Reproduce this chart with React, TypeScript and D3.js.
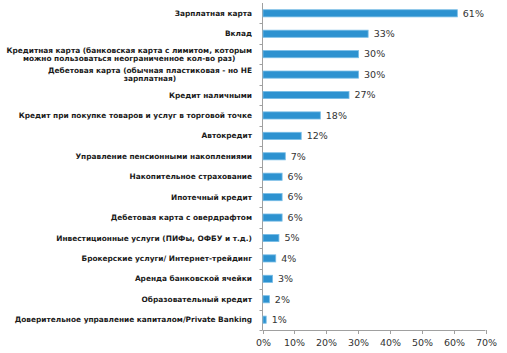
import React, { useEffect, useRef } from 'react';
import * as d3 from 'd3';

// categories (top to bottom), "\n" marks a line break in the label
const categories = [
  'Зарплатная карта',
  'Вклад',
  'Кредитная карта (банковская карта с  лимитом, которым\nможно пользоваться неограниченное кол-во раз)',
  'Дебетовая карта (обычная пластиковая - но НЕ\nзарплатная)',
  'Кредит наличными',
  'Кредит при покупке товаров и услуг в торговой точке',
  'Автокредит',
  'Управление пенсионными накоплениями',
  'Накопительное страхование',
  'Ипотечный кредит',
  'Дебетовая карта с овердрафтом',
  'Инвестиционные услуги (ПИФы, ОФБУ и т.д.)',
  'Брокерские услуги/ Интернет-трейдинг',
  'Аренда банковской ячейки',
  'Образовательный кредит',
  'Доверительное управление капиталом/Private Banking',
];
const values = [61, 33, 30, 30, 27, 18, 12, 7, 6, 6, 6, 5, 4, 3, 2, 1];
const xTicks = [0, 10, 20, 30, 40, 50, 60, 70];

const W = 507;
const H = 353;
const plot = { left: 262.5, right: 485.5, top: 3, bottom: 330 };

export default function App() {
  const ref = useRef<SVGSVGElement>(null);

  useEffect(() => {
    const svg = d3.select(ref.current);
    svg.selectAll('*').remove();

    const x = d3.scaleLinear().domain([0, 70]).range([plot.left, plot.right]);
    const y = d3
      .scaleBand<string>()
      .domain(categories)
      .range([plot.top, plot.bottom])
      .paddingInner(0.65)
      .paddingOuter(0.33);

    const bandTop = (i: number) => plot.top + i * ((plot.bottom - plot.top) / categories.length);

    // y axis line + small ticks between categories
    svg.append('line')
      .attr('x1', plot.left).attr('x2', plot.left)
      .attr('y1', plot.top).attr('y2', plot.bottom)
      .attr('stroke', '#a0a0a0');
    d3.range(1, categories.length + 1).forEach((i) => {
      const yy = Math.round(bandTop(i)) + 0.5;
      svg.append('line')
        .attr('x1', plot.left - 3).attr('x2', plot.left)
        .attr('y1', yy).attr('y2', yy)
        .attr('stroke', '#a0a0a0');
    });

    // x axis
    svg.append('line')
      .attr('x1', plot.left).attr('x2', plot.right)
      .attr('y1', plot.bottom + 0.5).attr('y2', plot.bottom + 0.5)
      .attr('stroke', '#a0a0a0');
    const tk = svg.append('g').selectAll('g').data(xTicks).join('g')
      .attr('transform', (d) => `translate(${Math.round(x(d)) + 0.5},${plot.bottom})`);
    tk.append('line').attr('y1', 0).attr('y2', 4).attr('stroke', '#a0a0a0');
    tk.append('text')
      .attr('y', 16)
      .attr('text-anchor', 'middle')
      .attr('font-family', 'DejaVu Sans')
      .attr('font-size', 9.5)
      .attr('fill', '#333')
      .text((d) => `${d}%`);

    // bars
    svg.append('g').selectAll('rect').data(values).join('rect')
      .attr('x', plot.left + 0.5)
      .attr('y', (d, i) => y(categories[i])!)
      .attr('width', (d) => x(d) - plot.left)
      .attr('height', y.bandwidth())
      .attr('fill', '#2d92d0')
      .attr('stroke', '#78bde6')
      .attr('stroke-width', 0.8);

    // value labels
    svg.append('g').selectAll('text').data(values).join('text')
      .attr('x', (d) => x(d) + 6)
      .attr('y', (d, i) => y(categories[i])! + y.bandwidth() / 2)
      .attr('dy', '0.35em')
      .attr('font-family', 'DejaVu Sans')
      .attr('font-size', 9.5)
      .attr('fill', '#333')
      .text((d) => `${d}%`);

    // category labels: block right-aligned, lines centred inside the block
    const labelRight = 252;
    const lineH = 7.8;
    categories.forEach((c, i) => {
      const lines = c.split('\n');
      const cy = y(c)! + y.bandwidth() / 2;
      const t = svg.append('text')
        .attr('font-family', 'DejaVu Sans')
        .attr('font-weight', 'bold')
        .attr('font-size', 7.4)
        .attr('fill', '#1a1a1a')
        .attr('text-anchor', 'middle');
      const spans = lines.map((ln, j) =>
        t.append('tspan')
          .attr('y', cy + (j - (lines.length - 1) / 2) * lineH)
          .attr('dy', '0.35em')
          .text(ln)
      );
      const widths = spans.map((s) => (s.node() as SVGTextContentElement).getComputedTextLength());
      const maxW = d3.max(widths) || 0;
      spans.forEach((s) => s.attr('x', labelRight - maxW / 2));
    });
  }, []);

  return (
    <div style={{ position: 'absolute', left: 0, top: 0, background: '#fff' }}>
      <svg ref={ref} width={W} height={H} style={{ display: 'block' }} />
    </div>
  );
}
